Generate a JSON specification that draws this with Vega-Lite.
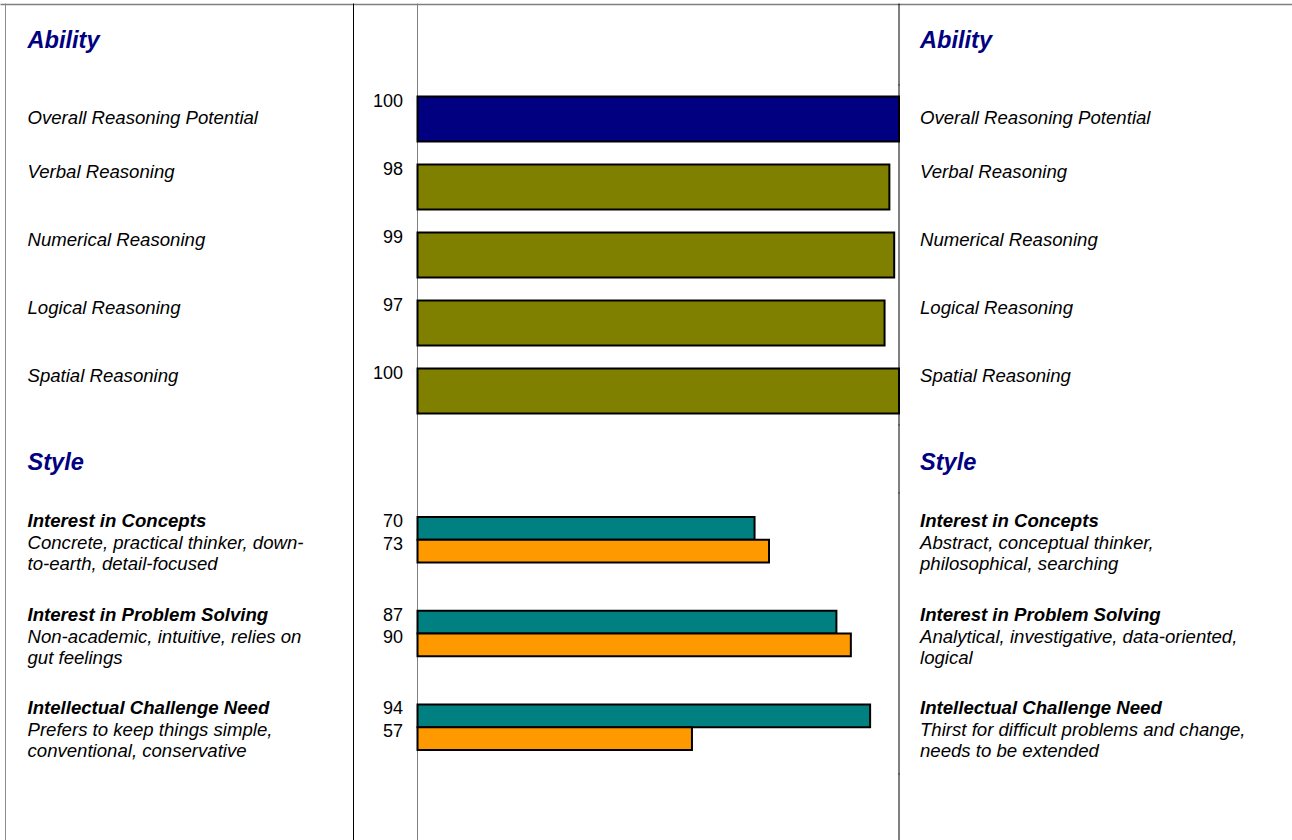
{
  "$schema": "https://vega.github.io/schema/vega-lite/v6.json",
  "padding": {"top": 3, "left": 0, "right": 0, "bottom": 0},
  "spacing": 0,
  "bounds": "flush",
  "resolve": {"scale": {"color": "independent"}},
  "config": {"view": {"stroke": null}, "font": "Liberation Sans", "text": {"font": "Liberation Sans"}, "rule": {"strokeCap": "square"}},
  "datasets": {
    "frame": [{"frame": "border"}],
    "headers": [{"section": "Ability"}, {"section": "Style"}],
    "ability": [
      {"item": "Overall Reasoning Potential", "value": 100, "kind": "overall"},
      {"item": "Verbal Reasoning", "value": 98, "kind": "component"},
      {"item": "Numerical Reasoning", "value": 99, "kind": "component"},
      {"item": "Logical Reasoning", "value": 97, "kind": "component"},
      {"item": "Spatial Reasoning", "value": 100, "kind": "component"}
    ],
    "style": [
      {"item": "Interest in Concepts", "series": "first", "value": 70},
      {"item": "Interest in Concepts", "series": "second", "value": 73},
      {"item": "Interest in Problem Solving", "series": "first", "value": 87},
      {"item": "Interest in Problem Solving", "series": "second", "value": 90},
      {"item": "Intellectual Challenge Need", "series": "first", "value": 94},
      {"item": "Intellectual Challenge Need", "series": "second", "value": 57}
    ],
    "styleText": [
      {"item": "Interest in Concepts", "low": "Concrete, practical thinker, down-\nto-earth, detail-focused", "high": "Abstract, conceptual thinker,\nphilosophical, searching"},
      {"item": "Interest in Problem Solving", "low": "Non-academic, intuitive, relies on\ngut feelings", "high": "Analytical, investigative, data-oriented,\nlogical"},
      {"item": "Intellectual Challenge Need", "low": "Prefers to keep things simple,\nconventional, conservative", "high": "Thirst for difficult problems and change,\nneeds to be extended"}
    ]
  },
  "vconcat": [
    {
      "width": 1292, "height": 81,
      "layer": [
        {"data": {"name": "frame"}, "mark": {"type": "rule", "color": "#8c8c8c", "strokeWidth": 1}, "encoding": {"x": {"datum": -85.57, "type": "quantitative", "scale": {"domain": [-86.71, 181.62], "nice": false, "zero": false}, "axis": {"orient": "top", "domain": true, "domainColor": "#7f7f7f", "domainWidth": 1.5, "ticks": false, "labels": false, "grid": false, "title": null, "offset": 0}}}},
        {"data": {"name": "frame"}, "mark": {"type": "rule", "color": "#000000", "strokeWidth": 1}, "encoding": {"x": {"datum": -13.29, "type": "quantitative", "scale": {"domain": [-86.71, 181.62], "nice": false, "zero": false}}}},
        {"data": {"name": "frame"}, "mark": {"type": "rule", "color": "#808080", "strokeWidth": 1}, "encoding": {"x": {"datum": 0, "type": "quantitative", "scale": {"domain": [-86.71, 181.62], "nice": false, "zero": false}}}},
        {"data": {"name": "frame"}, "mark": {"type": "rule", "color": "#000000", "strokeWidth": 1}, "encoding": {"x": {"datum": 100, "type": "quantitative", "scale": {"domain": [-86.71, 181.62], "nice": false, "zero": false}}}},
        {"data": {"name": "headers"}, "transform": [{"filter": "datum.section == 'Ability'"}], "mark": {"type": "text", "align": "left", "baseline": "alphabetic", "dy": 3.5, "fontSize": 23.6, "fontWeight": "bold", "fontStyle": "italic", "color": "#000080"}, "encoding": {"x": {"datum": -81.0, "type": "quantitative", "scale": {"domain": [-86.71, 181.62], "nice": false, "zero": false}}, "text": {"field": "section"}}},
        {"data": {"name": "headers"}, "transform": [{"filter": "datum.section == 'Ability'"}], "mark": {"type": "text", "align": "left", "baseline": "alphabetic", "dy": 3.5, "fontSize": 23.6, "fontWeight": "bold", "fontStyle": "italic", "color": "#000080"}, "encoding": {"x": {"datum": 104.36, "type": "quantitative", "scale": {"domain": [-86.71, 181.62], "nice": false, "zero": false}}, "text": {"field": "section"}}}
      ]
    },
    {
      "width": 1292, "height": 340,
      "layer": [
        {"data": {"name": "frame"}, "mark": {"type": "rule", "color": "#8c8c8c", "strokeWidth": 1}, "encoding": {"x": {"datum": -85.57, "type": "quantitative", "scale": {"domain": [-86.71, 181.62], "nice": false, "zero": false}, "axis": null}}},
        {"data": {"name": "frame"}, "mark": {"type": "rule", "color": "#000000", "strokeWidth": 1}, "encoding": {"x": {"datum": -13.29, "type": "quantitative", "scale": {"domain": [-86.71, 181.62], "nice": false, "zero": false}, "axis": null}}},
        {"data": {"name": "frame"}, "mark": {"type": "rule", "color": "#808080", "strokeWidth": 1}, "encoding": {"x": {"datum": 0, "type": "quantitative", "scale": {"domain": [-86.71, 181.62], "nice": false, "zero": false}, "axis": null}}},
        {"data": {"name": "frame"}, "mark": {"type": "rule", "color": "#000000", "strokeWidth": 1}, "encoding": {"x": {"datum": 100, "type": "quantitative", "scale": {"domain": [-86.71, 181.62], "nice": false, "zero": false}, "axis": null}}},
        {"data": {"name": "ability"}, "mark": {"type": "bar", "stroke": "#000000", "strokeWidth": 2},
         "encoding": {
           "y": {"field": "item", "type": "nominal", "sort": null, "scale": {"paddingInner": 0.338, "paddingOuter": 0.169}, "axis": null},
           "x": {"field": "value", "type": "quantitative", "scale": {"domain": [-86.71, 181.62], "nice": false, "zero": false}, "axis": null},
           "x2": {"datum": 0},
           "color": {"field": "kind", "type": "nominal", "scale": {"domain": ["overall", "component"], "range": ["#000080", "#808000"]}, "legend": null}
         }},
        {"data": {"name": "ability"}, "transform": [{"filter": "datum.kind == 'overall'"}], "mark": {"type": "text", "align": "left", "baseline": "alphabetic", "dy": 4.5, "fontSize": 18.6, "fontStyle": "italic", "color": "#000000"},
         "encoding": {"y": {"field": "item", "type": "nominal", "sort": null, "axis": null}, "x": {"datum": -81.0, "type": "quantitative", "scale": {"domain": [-86.71, 181.62], "nice": false, "zero": false}, "axis": null}, "text": {"field": "item"}}},
        {"data": {"name": "ability"}, "transform": [{"filter": "datum.kind == 'overall'"}], "mark": {"type": "text", "align": "left", "baseline": "alphabetic", "dy": 4.5, "fontSize": 18.6, "fontStyle": "italic", "color": "#000000"},
         "encoding": {"y": {"field": "item", "type": "nominal", "sort": null, "axis": null}, "x": {"datum": 104.36, "type": "quantitative", "scale": {"domain": [-86.71, 181.62], "nice": false, "zero": false}, "axis": null}, "text": {"field": "item"}}},
        {"data": {"name": "ability"}, "transform": [{"filter": "datum.kind == 'component'"}], "mark": {"type": "text", "align": "left", "baseline": "alphabetic", "dy": -9.5, "fontSize": 18.6, "fontStyle": "italic", "color": "#000000"},
         "encoding": {"y": {"field": "item", "type": "nominal", "sort": null, "axis": null}, "x": {"datum": -81.0, "type": "quantitative", "scale": {"domain": [-86.71, 181.62], "nice": false, "zero": false}, "axis": null}, "text": {"field": "item"}}},
        {"data": {"name": "ability"}, "transform": [{"filter": "datum.kind == 'component'"}], "mark": {"type": "text", "align": "left", "baseline": "alphabetic", "dy": -9.5, "fontSize": 18.6, "fontStyle": "italic", "color": "#000000"},
         "encoding": {"y": {"field": "item", "type": "nominal", "sort": null, "axis": null}, "x": {"datum": 104.36, "type": "quantitative", "scale": {"domain": [-86.71, 181.62], "nice": false, "zero": false}, "axis": null}, "text": {"field": "item"}}},
        {"data": {"name": "ability"}, "mark": {"type": "text", "align": "right", "baseline": "alphabetic", "dy": -12.5, "fontSize": 18, "color": "#000000"},
         "encoding": {"y": {"field": "item", "type": "nominal", "sort": null, "axis": null}, "x": {"datum": -3.01, "type": "quantitative", "scale": {"domain": [-86.71, 181.62], "nice": false, "zero": false}, "axis": null}, "text": {"field": "value"}}}
      ]
    },
    {
      "width": 1292, "height": 68,
      "layer": [
        {"data": {"name": "frame"}, "mark": {"type": "rule", "color": "#8c8c8c", "strokeWidth": 1}, "encoding": {"x": {"datum": -85.57, "type": "quantitative", "scale": {"domain": [-86.71, 181.62], "nice": false, "zero": false}, "axis": null}}},
        {"data": {"name": "frame"}, "mark": {"type": "rule", "color": "#000000", "strokeWidth": 1}, "encoding": {"x": {"datum": -13.29, "type": "quantitative", "scale": {"domain": [-86.71, 181.62], "nice": false, "zero": false}, "axis": null}}},
        {"data": {"name": "frame"}, "mark": {"type": "rule", "color": "#808080", "strokeWidth": 1}, "encoding": {"x": {"datum": 0, "type": "quantitative", "scale": {"domain": [-86.71, 181.62], "nice": false, "zero": false}, "axis": null}}},
        {"data": {"name": "frame"}, "mark": {"type": "rule", "color": "#000000", "strokeWidth": 1}, "encoding": {"x": {"datum": 100, "type": "quantitative", "scale": {"domain": [-86.71, 181.62], "nice": false, "zero": false}, "axis": null}}},
        {"data": {"name": "headers"}, "transform": [{"filter": "datum.section == 'Style'"}], "mark": {"type": "text", "align": "left", "baseline": "alphabetic", "dy": 10.5, "fontSize": 23.6, "fontWeight": "bold", "fontStyle": "italic", "color": "#000080"}, "encoding": {"x": {"datum": -81.0, "type": "quantitative", "scale": {"domain": [-86.71, 181.62], "nice": false, "zero": false}, "axis": null}, "text": {"field": "section"}}},
        {"data": {"name": "headers"}, "transform": [{"filter": "datum.section == 'Style'"}], "mark": {"type": "text", "align": "left", "baseline": "alphabetic", "dy": 10.5, "fontSize": 23.6, "fontWeight": "bold", "fontStyle": "italic", "color": "#000080"}, "encoding": {"x": {"datum": 104.36, "type": "quantitative", "scale": {"domain": [-86.71, 181.62], "nice": false, "zero": false}, "axis": null}, "text": {"field": "section"}}}
      ]
    },
    {
      "width": 1292, "height": 281,
      "layer": [
        {"data": {"name": "frame"}, "mark": {"type": "rule", "color": "#8c8c8c", "strokeWidth": 1}, "encoding": {"x": {"datum": -85.57, "type": "quantitative", "scale": {"domain": [-86.71, 181.62], "nice": false, "zero": false}, "axis": null}}},
        {"data": {"name": "frame"}, "mark": {"type": "rule", "color": "#000000", "strokeWidth": 1}, "encoding": {"x": {"datum": -13.29, "type": "quantitative", "scale": {"domain": [-86.71, 181.62], "nice": false, "zero": false}, "axis": null}}},
        {"data": {"name": "frame"}, "mark": {"type": "rule", "color": "#808080", "strokeWidth": 1}, "encoding": {"x": {"datum": 0, "type": "quantitative", "scale": {"domain": [-86.71, 181.62], "nice": false, "zero": false}, "axis": null}}},
        {"data": {"name": "frame"}, "mark": {"type": "rule", "color": "#000000", "strokeWidth": 1}, "encoding": {"x": {"datum": 100, "type": "quantitative", "scale": {"domain": [-86.71, 181.62], "nice": false, "zero": false}, "axis": null}}},
        {"data": {"name": "style"}, "mark": {"type": "bar", "stroke": "#000000", "strokeWidth": 2},
         "encoding": {
           "y": {"field": "item", "type": "nominal", "sort": null, "scale": {"paddingInner": 0.5134, "paddingOuter": 0.2567}, "axis": null},
           "yOffset": {"field": "series", "type": "nominal", "sort": null, "scale": {"paddingInner": 0, "paddingOuter": 0}},
           "x": {"field": "value", "type": "quantitative", "scale": {"domain": [-86.71, 181.62], "nice": false, "zero": false}, "axis": null},
           "x2": {"datum": 0},
           "color": {"field": "series", "type": "nominal", "scale": {"domain": ["first", "second"], "range": ["#008080", "#ff9900"]}, "legend": null}
         }},
        {"data": {"name": "style"}, "mark": {"type": "text", "align": "right", "baseline": "alphabetic", "dy": -1.5, "fontSize": 18, "color": "#000000"},
         "encoding": {"y": {"field": "item", "type": "nominal", "sort": null, "axis": null}, "yOffset": {"field": "series", "type": "nominal", "sort": null}, "x": {"datum": -3.01, "type": "quantitative", "scale": {"domain": [-86.71, 181.62], "nice": false, "zero": false}, "axis": null}, "text": {"field": "value"}}},
        {"data": {"name": "styleText"}, "mark": {"type": "text", "align": "left", "baseline": "alphabetic", "dy": -13, "fontSize": 18.6, "fontStyle": "italic", "fontWeight": "bold", "color": "#000000"},
         "encoding": {"y": {"field": "item", "type": "nominal", "sort": null, "axis": null}, "x": {"datum": -81.0, "type": "quantitative", "scale": {"domain": [-86.71, 181.62], "nice": false, "zero": false}, "axis": null}, "text": {"field": "item"}}},
        {"data": {"name": "styleText"}, "mark": {"type": "text", "align": "left", "baseline": "alphabetic", "dy": -13, "fontSize": 18.6, "fontStyle": "italic", "fontWeight": "bold", "color": "#000000"},
         "encoding": {"y": {"field": "item", "type": "nominal", "sort": null, "axis": null}, "x": {"datum": 104.36, "type": "quantitative", "scale": {"domain": [-86.71, 181.62], "nice": false, "zero": false}, "axis": null}, "text": {"field": "item"}}},
        {"data": {"name": "styleText"}, "mark": {"type": "text", "align": "left", "baseline": "alphabetic", "dy": 9, "lineBreak": "\n", "lineHeight": 21, "fontSize": 18.6, "fontStyle": "italic", "color": "#000000"},
         "encoding": {"y": {"field": "item", "type": "nominal", "sort": null, "axis": null}, "x": {"datum": -81.0, "type": "quantitative", "scale": {"domain": [-86.71, 181.62], "nice": false, "zero": false}, "axis": null}, "text": {"field": "low"}}},
        {"data": {"name": "styleText"}, "mark": {"type": "text", "align": "left", "baseline": "alphabetic", "dy": 9, "lineBreak": "\n", "lineHeight": 21, "fontSize": 18.6, "fontStyle": "italic", "color": "#000000"},
         "encoding": {"y": {"field": "item", "type": "nominal", "sort": null, "axis": null}, "x": {"datum": 104.36, "type": "quantitative", "scale": {"domain": [-86.71, 181.62], "nice": false, "zero": false}, "axis": null}, "text": {"field": "high"}}}
      ]
    },
    {
      "width": 1292, "height": 70,
      "layer": [
        {"data": {"name": "frame"}, "mark": {"type": "rule", "color": "#8c8c8c", "strokeWidth": 1}, "encoding": {"x": {"datum": -85.57, "type": "quantitative", "scale": {"domain": [-86.71, 181.62], "nice": false, "zero": false}, "axis": null}}},
        {"data": {"name": "frame"}, "mark": {"type": "rule", "color": "#000000", "strokeWidth": 1}, "encoding": {"x": {"datum": -13.29, "type": "quantitative", "scale": {"domain": [-86.71, 181.62], "nice": false, "zero": false}, "axis": null}}},
        {"data": {"name": "frame"}, "mark": {"type": "rule", "color": "#808080", "strokeWidth": 1}, "encoding": {"x": {"datum": 0, "type": "quantitative", "scale": {"domain": [-86.71, 181.62], "nice": false, "zero": false}, "axis": null}}},
        {"data": {"name": "frame"}, "mark": {"type": "rule", "color": "#000000", "strokeWidth": 1}, "encoding": {"x": {"datum": 100, "type": "quantitative", "scale": {"domain": [-86.71, 181.62], "nice": false, "zero": false}, "axis": null}}}
      ]
    }
  ]
}
